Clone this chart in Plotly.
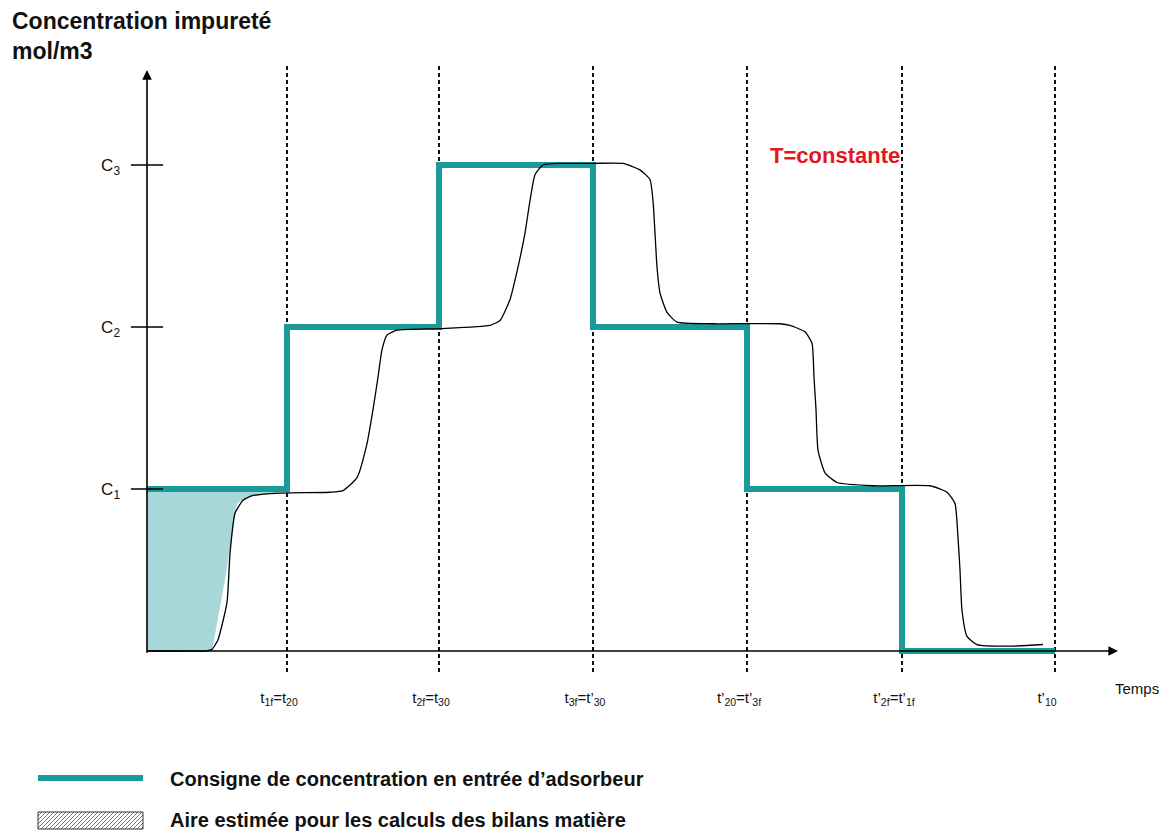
import plotly.graph_objects as go

# ---- data (time in arbitrary units, concentration in levels C1..C3) ----
# dashed time marks
t_marks = [140, 292, 446, 600, 755, 908]
t_labels = ["t<sub>1f</sub>=t<sub>20</sub>",
            "t<sub>2f</sub>=t<sub>30</sub>",
            "t<sub>3f</sub>=t’<sub>30</sub>",
            "t’<sub>20</sub>=t’<sub>3f</sub>",
            "t’<sub>2f</sub>=t’<sub>1f</sub>",
            "t’<sub>10</sub>"]

# concentration levels
c_levels = [1, 2, 3]
c_labels = ["C<sub>1</sub>", "C<sub>2</sub>", "C<sub>3</sub>"]

# setpoint (consigne) step profile
set_t = [0, 140, 140, 292, 292, 446, 446, 600, 600, 755, 755, 908]
set_c = [1, 1, 2, 2, 3, 3, 2, 2, 1, 1, 0, 0]

# measured outlet concentration
resp_t = [0, 33, 58, 65, 71, 80, 83, 88, 96, 106, 133, 183, 196, 210, 220, 226, 231, 235, 240, 250,
          293, 343, 353, 363, 371, 378, 383, 388, 396, 416, 446, 476, 493, 503, 506, 508, 510, 513,
          520, 530, 566, 633, 643, 658, 665, 667, 669, 671, 678, 690, 726, 783, 800, 808, 811, 813,
          815, 820, 830, 866, 896]
resp_c = [0, 0, 0, 0.01, 0.07, 0.30, 0.60, 0.85, 0.93, 0.96, 0.975, 0.98, 0.99, 1.07, 1.28, 1.49,
          1.69, 1.86, 1.95, 1.98, 1.99, 2.01, 2.04, 2.17, 2.37, 2.58, 2.78, 2.94, 3.00, 3.01, 3.01,
          3.01, 2.97, 2.91, 2.78, 2.58, 2.37, 2.21, 2.09, 2.03, 2.02, 2.02, 2.01, 1.97, 1.90, 1.69,
          1.49, 1.24, 1.10, 1.04, 1.02, 1.02, 0.98, 0.91, 0.70, 0.50, 0.25, 0.09, 0.04, 0.03, 0.04]

# estimated area (shaded)
area_t = [0, 65, 78, 90, 100, 130, 140, 0]
area_c = [0, 0, 0.44, 0.91, 0.95, 0.975, 1, 1]

TEAL = "#1a9a98"
FONT = "Arial, Liberation Sans, sans-serif"

# page has an 8px body margin; plot area spans window px 147..1171 x 66..673
OFF = 8
WIN_W, WIN_H = 1171, 832
X0, X1, Y0, Y1 = 147, 1171, 66, 673


def px(xp):
    return (xp - X0) / (X1 - X0)


def py(yp):
    return (Y1 - yp) / (Y1 - Y0)


fig = go.Figure()

fig.add_trace(go.Scatter(x=area_t, y=area_c, mode="lines", fill="toself",
                         fillcolor="#a8d7da", line=dict(width=0), hoverinfo="skip"))
fig.add_trace(go.Scatter(x=set_t, y=set_c, mode="lines",
                         line=dict(color=TEAL, width=6), hoverinfo="skip"))
fig.add_trace(go.Scatter(x=resp_t, y=resp_c, mode="lines",
                         line=dict(color="black", width=1.3, shape="spline", smoothing=0.5),
                         hoverinfo="skip"))
# tick marks crossing the concentration axis
fig.add_trace(go.Scatter(x=[0] * len(c_levels), y=c_levels, mode="markers",
                         marker=dict(symbol="line-ew", size=23, line=dict(color="black", width=1.5)),
                         hoverinfo="skip", cliponaxis=False))

# axes drawn as arrows
fig.add_annotation(x=0, y=3.586, ax=0, ay=-0.02, xref="x", yref="y", axref="x", ayref="y",
                   showarrow=True, arrowhead=2, arrowsize=1.2, arrowwidth=1.6, arrowcolor="black", text="")
fig.add_annotation(x=971, y=0, ax=-1, ay=0, xref="x", yref="y", axref="x", ayref="y",
                   showarrow=True, arrowhead=2, arrowsize=1.2, arrowwidth=1.6, arrowcolor="black", text="")

fig.add_annotation(x=621, y=3.06, xref="x", yref="y", text="<b>T=constante</b>", showarrow=False,
                   xanchor="left", yanchor="middle", font=dict(family=FONT, size=22, color="#e3161d"))

fig.add_annotation(x=px(10), y=py(6), xref="paper", yref="paper", xanchor="left", yanchor="top",
                   align="left", showarrow=False,
                   text="<b>Concentration impureté<br>mol/m3</b>",
                   font=dict(family=FONT, size=23, color="#111"))
fig.add_annotation(x=px(1113), y=py(688), xref="paper", yref="paper", xanchor="left", yanchor="middle",
                   showarrow=False, text="Temps", font=dict(family=FONT, size=15, color="#111"))

# legend block
fig.add_shape(type="line", xref="paper", yref="paper", x0=px(38), x1=px(143), y0=py(778), y1=py(778),
              line=dict(color=TEAL, width=6))
bx0, bx1, by0, by1 = 38, 143, 812, 829
hatch = ""
for k in range(-17, 106, 4):
    x0, y0, x1, y1 = bx0 + k, by1, bx0 + k + 17, by0
    if x0 < bx0:
        y0 = by1 - (bx0 - x0)
        x0 = bx0
    if x1 > bx1:
        y1 = by0 + (x1 - bx1)
        x1 = bx1
    hatch += f"M {px(x0)} {py(y0)} L {px(x1)} {py(y1)} "
fig.add_shape(type="path", xref="paper", yref="paper", path=hatch, line=dict(color="#777", width=1))
fig.add_shape(type="rect", xref="paper", yref="paper", x0=px(bx0), x1=px(bx1), y0=py(by0), y1=py(by1),
              line=dict(color="#333", width=1))
fig.add_annotation(x=px(168), y=py(779), xref="paper", yref="paper", xanchor="left", yanchor="middle",
                   showarrow=False, text="<b>Consigne de concentration en entrée d’adsorbeur</b>",
                   font=dict(family=FONT, size=20, color="#111"))
fig.add_annotation(x=px(168), y=py(820), xref="paper", yref="paper", xanchor="left", yanchor="middle",
                   showarrow=False, text="<b>Aire estimée pour les calculs des bilans matière</b>",
                   font=dict(family=FONT, size=20, color="#111"))

fig.update_layout(
    width=WIN_W - OFF, height=WIN_H - OFF,
    margin=dict(l=X0 - OFF, r=WIN_W - X1, t=Y0 - OFF, b=WIN_H - Y1),
    paper_bgcolor="white", plot_bgcolor="white", showlegend=False,
    xaxis=dict(range=[0, X1 - X0], tickvals=t_marks, ticktext=t_labels, ticks="",
               showgrid=True, gridcolor="#111", gridwidth=1.6, griddash="4px,3px",
               zeroline=False, showline=False, ticklabelstandoff=14, ticklabelshift=-8,
               tickfont=dict(family=FONT, size=15, color="#111")),
    yaxis=dict(range=[(651 - Y1) / 162, (651 - Y0) / 162], tickvals=c_levels, ticktext=c_labels,
               ticks="", showgrid=False, zeroline=False, showline=False, ticklabelstandoff=26,
               tickfont=dict(family=FONT, size=17, color="#111")),
)

fig.write_html("out.html")
